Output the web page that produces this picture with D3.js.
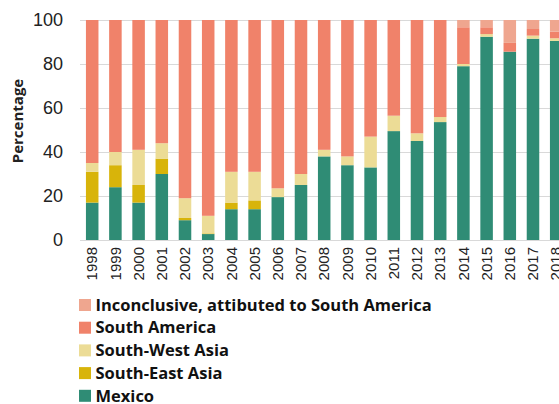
<!DOCTYPE html>
<html>
<head>
<meta charset="utf-8">
<script src="https://cdn.jsdelivr.net/npm/d3@7"></script>
<style>
  body { margin: 0; background: #fff; overflow: hidden; }
  svg { display: block; font-family: "Open Sans", "Liberation Sans", sans-serif; }
</style>
</head>
<body>
<div id="chart"></div>
<script>
var years = ['1998','1999','2000','2001','2002','2003','2004','2005','2006','2007',
    '2008','2009','2010','2011','2012','2013','2014','2015','2016','2017','2018'];

var mexico       = [17, 24, 17, 30, 9, 2.7, 14, 14, 19.5, 25, 38, 34, 33, 49.5, 45, 53.6, 79, 92.4, 85.6, 91.5, 90.5];
var southEast    = [14, 10, 8, 7, 1, 0.3, 3, 4, 0, 0, 0, 0, 0, 0, 0, 0, 0, 0, 0, 0, 0];
var southWest    = [4, 6, 16, 7, 9, 8, 14, 13, 4, 5, 3, 4, 14, 7, 3.5, 2.3, 1, 1.2, 0, 1.4, 1.2];
var southAmerica = [65, 60, 59, 56, 81, 89, 69, 69, 76.5, 70, 59, 62, 53, 43.5, 51.5, 44.1, 16.7, 3.1, 4, 3, 3];
var inconclusive = [0, 0, 0, 0, 0, 0, 0, 0, 0, 0, 0, 0, 0, 0, 0, 0, 3.3, 3.3, 10.4, 4.1, 5.3];

var yTicks = [0, 20, 40, 60, 80, 100];

var seriesNames = ['Mexico', 'South-East Asia', 'South-West Asia', 'South America',
    'Inconclusive, attibuted to South America'];
var seriesColors = ['#2f8c75', '#d8b40a', '#ecdc96', '#f0826a', '#efa68f'];

var rows = years.map(function(y, i) {
    return {
        year: y,
        'Mexico': mexico[i],
        'South-East Asia': southEast[i],
        'South-West Asia': southWest[i],
        'South America': southAmerica[i],
        'Inconclusive, attibuted to South America': inconclusive[i]
    };
});

var width = 559, height = 404;
var svg = d3.select('#chart').append('svg')
    .attr('width', width)
    .attr('height', height);

var x = d3.scaleBand()
    .domain(years)
    .range([80.6, 567.8])
    .paddingInner(0.46)
    .paddingOuter(0.23);

var y = d3.scaleLinear()
    .domain([0, 100])
    .range([240, 20]);

// gridlines
svg.append('g')
    .selectAll('line')
    .data(yTicks)
    .enter()
    .append('line')
        .attr('x1', 80)
        .attr('x2', width)
        .attr('y1', function(d) { return y(d) + 0.5; })
        .attr('y2', function(d) { return y(d) + 0.5; })
        .attr('stroke', '#d9d9d9')
        .attr('stroke-width', 1);

var stack = d3.stack().keys(seriesNames);
var layers = stack(rows);

svg.append('g')
    .selectAll('g')
    .data(layers)
    .enter()
    .append('g')
        .attr('fill', function(d, i) { return seriesColors[i]; })
    .selectAll('rect')
    .data(function(d) { return d; })
    .enter()
    .append('rect')
        .attr('x', function(d) { return x(d.data.year); })
        .attr('width', x.bandwidth())
        .attr('y', function(d) { return y(d[1]); })
        .attr('height', function(d) { return y(d[0]) - y(d[1]); });

// y axis labels
var yAxis = svg.append('g')
    .attr('transform', 'translate(63,0)')
    .call(d3.axisLeft(y).tickValues(yTicks).tickSize(0).tickPadding(0));
yAxis.select('.domain').remove();
yAxis.selectAll('text')
    .style('font-size', '18px')
    .attr('fill', '#222');

// x axis
var xAxis = svg.append('g')
    .attr('transform', 'translate(0,240)')
    .call(d3.axisBottom(x).tickSize(0).tickPadding(0));
xAxis.select('.domain')
    .attr('stroke', '#d9d9d9');
xAxis.selectAll('text')
    .attr('transform', 'rotate(-90)')
    .attr('text-anchor', 'end')
    .attr('x', -7)
    .attr('y', 0)
    .attr('dy', '0.35em')
    .style('font-size', '15px')
    .attr('fill', '#222');

svg.append('text')
    .attr('transform', 'translate(18,121) rotate(-90)')
    .attr('text-anchor', 'middle')
    .attr('dy', '0.35em')
    .style('font-size', '15px')
    .style('font-weight', 'bold')
    .attr('fill', '#222')
    .text('Percentage');

// legend, top entry is the last series
var legend = svg.append('g')
    .selectAll('g')
    .data(seriesNames.slice().reverse())
    .enter()
    .append('g')
        .attr('transform', function(d, i) { return 'translate(79,' + (305 + i * 22.7) + ')'; });

legend.append('rect')
    .attr('x', 0)
    .attr('y', -6)
    .attr('width', 12)
    .attr('height', 12)
    .attr('fill', function(d) { return seriesColors[seriesNames.indexOf(d)]; });

legend.append('text')
    .attr('x', 16.5)
    .attr('dy', '0.35em')
    .style('font-size', '16.5px')
    .style('font-weight', 'bold')
    .attr('fill', '#111')
    .text(function(d) { return d; });
</script>
</body>
</html>
